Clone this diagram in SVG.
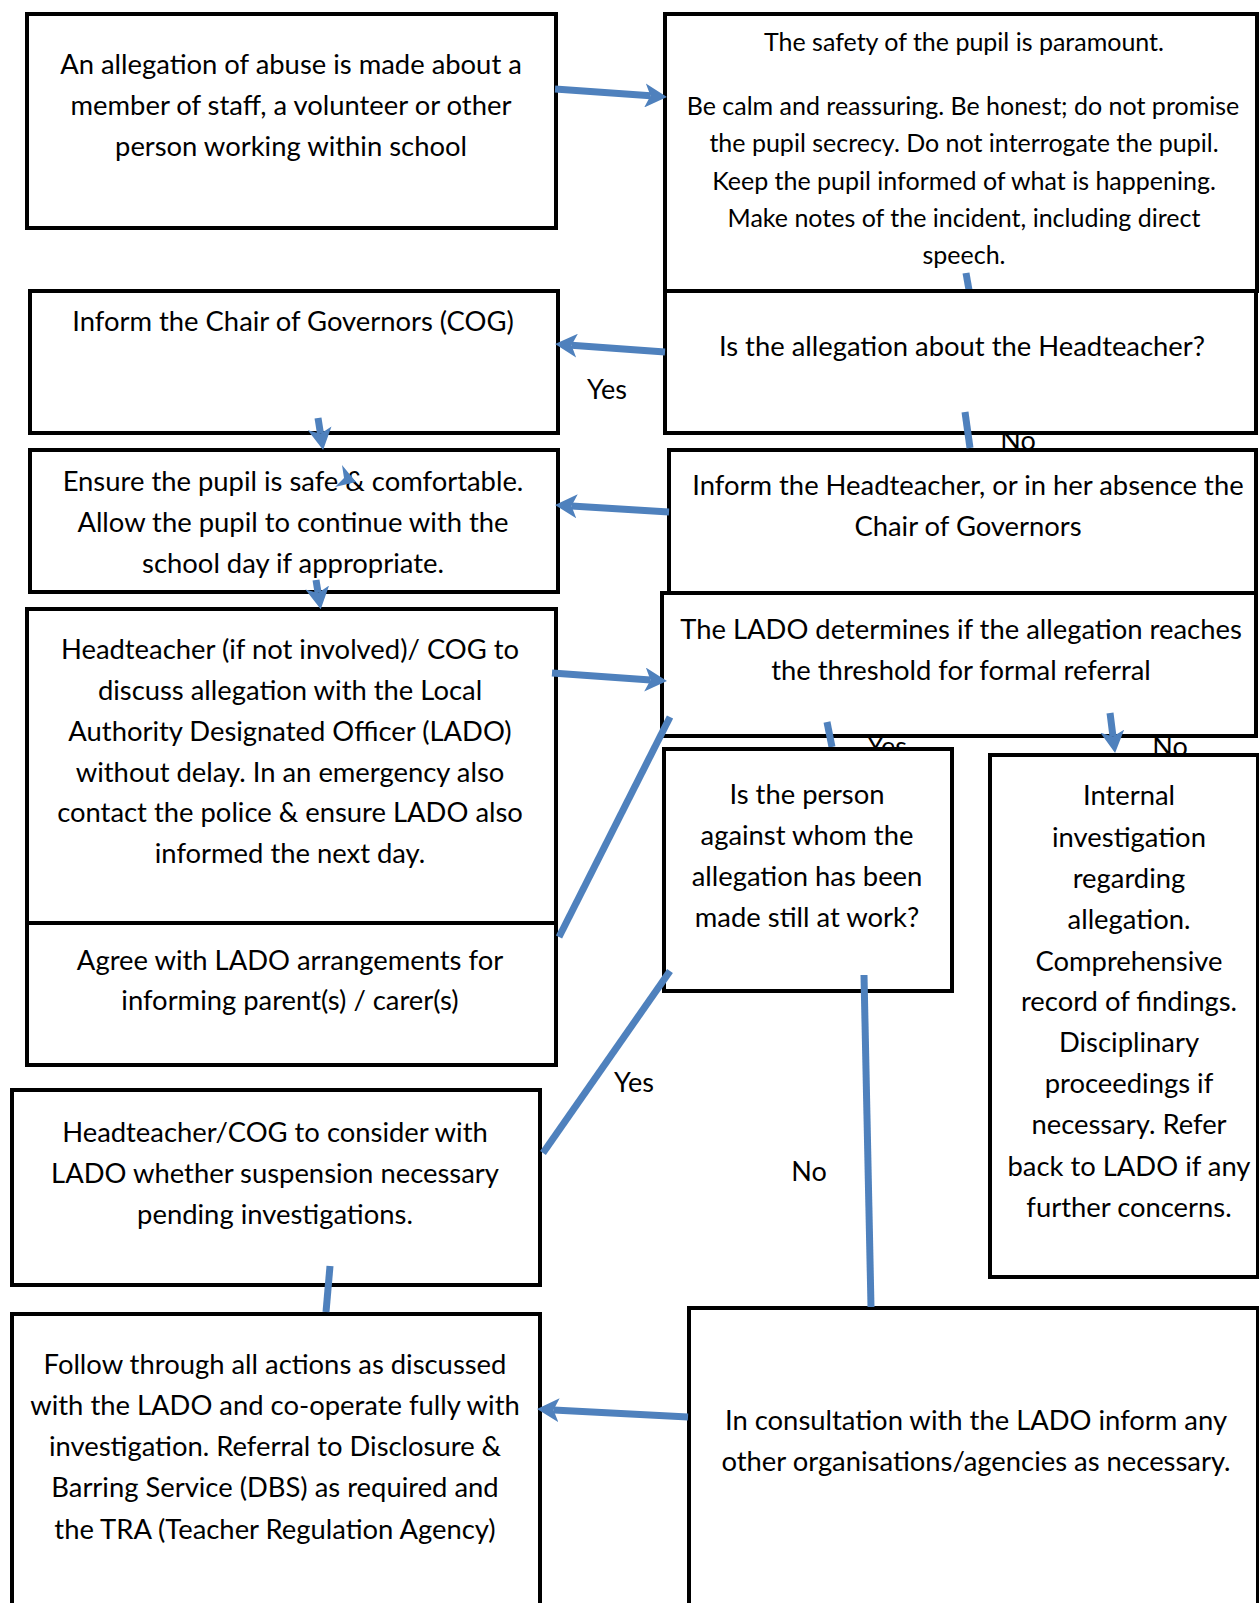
<svg xmlns="http://www.w3.org/2000/svg" width="1259" height="1603" viewBox="0 0 1259 1603">
<style>
  .box { fill: #ffffff; stroke: #000000; stroke-width: 4; }
  .t { font-family: Lato, "Liberation Sans", sans-serif; font-size: 27.4px; fill: #000; text-anchor: middle; }
  .ts { font-family: Lato, "Liberation Sans", sans-serif; font-size: 25px; fill: #000; text-anchor: middle; }
  .lbl { font-family: Lato, "Liberation Sans", sans-serif; font-size: 27px; fill: #000; text-anchor: middle; }
  .c { stroke: #4F81BD; stroke-width: 7; fill: none; }
  .ca { stroke: #4F81BD; stroke-width: 7; fill: none; marker-end: url(#ah); }
  .hd { fill: #4F81BD; }
</style>
<defs>
  <marker id="ah" markerUnits="userSpaceOnUse" markerWidth="22" markerHeight="24" viewBox="0 0 10 10" preserveAspectRatio="none" refX="2.5" refY="5" orient="auto">
    <path d="M0,0 L10,5 L0,10 L2.5,5 z" fill="#4F81BD"/>
  </marker>
</defs>
<rect width="1259" height="1603" fill="#ffffff"/>

<g id="labels">
  <text class="lbl" x="607" y="399">Yes</text>
  <text class="lbl" x="1018" y="450">No</text>
  <text class="lbl" x="887" y="756">Yes</text>
  <text class="lbl" x="1170" y="756">No</text>
  <text class="lbl" x="634" y="1092">Yes</text>
  <text class="lbl" x="809" y="1181">No</text>
</g>

<g id="n1">
  <rect class="box" x="27" y="14" width="529" height="214"/>
  <text class="t" x="291" y="74">An allegation of abuse is made about a</text>
  <text class="t" x="291" y="115">member of staff, a volunteer or other</text>
  <text class="t" x="291" y="156">person working within school</text>
</g>
<g id="n2">
  <rect class="box" x="665" y="14" width="592" height="277"/>
  <text class="ts" x="964" y="51">The safety of the pupil is paramount.</text>
  <text class="ts" x="963" y="115">Be calm and reassuring. Be honest; do not promise</text>
  <text class="ts" x="964" y="152">the pupil secrecy. Do not interrogate the pupil.</text>
  <text class="ts" x="964" y="190">Keep the pupil informed of what is happening.</text>
  <text class="ts" x="964" y="227">Make notes of the incident, including direct</text>
  <text class="ts" x="964" y="264">speech.</text>
</g>
<g id="c-seg1">
  <line class="c" x1="966" y1="273" x2="969" y2="290"/>
</g>
<g id="n3">
  <rect class="box" x="665" y="291" width="591" height="142"/>
  <text class="t" x="962" y="356">Is the allegation about the Headteacher?</text>
</g>
<g id="n4">
  <rect class="box" x="30" y="291" width="528" height="142"/>
  <text class="t" x="293" y="331">Inform the Chair of Governors (COG)</text>
</g>
<g id="n5">
  <rect class="box" x="30" y="450" width="528" height="142"/>
  <text class="t" x="293" y="491">Ensure the pupil is safe &amp; comfortable.</text>
  <text class="t" x="293" y="532">Allow the pupil to continue with the</text>
  <text class="t" x="293" y="573">school day if appropriate.</text>
</g>
<g id="n6">
  <rect class="box" x="669" y="450" width="587" height="143"/>
  <text class="t" x="968" y="495">Inform the Headteacher, or in her absence the</text>
  <text class="t" x="968" y="536">Chair of Governors</text>
</g>
<g id="n7">
  <rect class="box" x="662" y="593" width="594" height="143"/>
  <text class="t" x="961" y="639">The LADO determines if the allegation reaches</text>
  <text class="t" x="961" y="680">the threshold for formal referral</text>
</g>
<g id="n8">
  <rect class="box" x="27" y="609" width="529" height="314"/>
  <text class="t" x="290" y="659">Headteacher (if not involved)/ COG to</text>
  <text class="t" x="290" y="700">discuss allegation with the Local</text>
  <text class="t" x="290" y="741">Authority Designated Officer (LADO)</text>
  <text class="t" x="290" y="782">without delay. In an emergency also</text>
  <text class="t" x="290" y="822">contact the police &amp; ensure LADO also</text>
  <text class="t" x="290" y="863">informed the next day.</text>
</g>
<g id="n9">
  <rect class="box" x="27" y="923" width="529" height="142"/>
  <text class="t" x="290" y="970">Agree with LADO arrangements for</text>
  <text class="t" x="290" y="1010">informing parent(s) / carer(s)</text>
</g>
<g id="c-seg2">
  <line class="c" x1="827" y1="722" x2="832" y2="747"/>
</g>
<g id="n10">
  <rect class="box" x="664" y="749" width="288" height="242"/>
  <text class="t" x="807" y="804">Is the person</text>
  <text class="t" x="807" y="845">against whom the</text>
  <text class="t" x="807" y="886">allegation has been</text>
  <text class="t" x="807" y="927">made still at work?</text>
</g>
<g id="n11">
  <rect class="box" x="990" y="755" width="268" height="522"/>
  <text class="t" x="1129" y="805">Internal</text>
  <text class="t" x="1129" y="847">investigation</text>
  <text class="t" x="1129" y="888">regarding</text>
  <text class="t" x="1129" y="929">allegation.</text>
  <text class="t" x="1129" y="971">Comprehensive</text>
  <text class="t" x="1129" y="1011">record of findings.</text>
  <text class="t" x="1129" y="1052">Disciplinary</text>
  <text class="t" x="1129" y="1093">proceedings if</text>
  <text class="t" x="1129" y="1134">necessary. Refer</text>
  <text class="t" x="1129" y="1176">back to LADO if any</text>
  <text class="t" x="1129" y="1217">further concerns.</text>
</g>
<g id="n12">
  <rect class="box" x="12" y="1090" width="528" height="195"/>
  <text class="t" x="275" y="1142">Headteacher/COG to consider with</text>
  <text class="t" x="275" y="1183">LADO whether suspension necessary</text>
  <text class="t" x="275" y="1224">pending investigations.</text>
</g>
<g id="n13">
  <rect class="box" x="12" y="1314" width="528" height="320"/>
  <text class="t" x="275" y="1374">Follow through all actions as discussed</text>
  <text class="t" x="275" y="1415">with the LADO and co-operate fully with</text>
  <text class="t" x="275" y="1456">investigation. Referral to Disclosure &amp;</text>
  <text class="t" x="275" y="1497">Barring Service (DBS) as required and</text>
  <text class="t" x="275" y="1539">the TRA (Teacher Regulation Agency)</text>
</g>
<g id="n14">
  <rect class="box" x="689" y="1308" width="569" height="320"/>
  <text class="t" x="976" y="1430">In consultation with the LADO inform any</text>
  <text class="t" x="976" y="1471">other organisations/agencies as necessary.</text>
</g>

<g id="connectors">
  <line class="ca" x1="555" y1="89" x2="650.5" y2="95.8"/>
  <line class="ca" x1="665" y1="352" x2="571.5" y2="345.2"/>
  <line class="ca" x1="318" y1="418" x2="320.5" y2="433.7"/>
  <polygon class="hd" points="342,465 356,482 335,487 344,478"/>
  <line class="ca" x1="316" y1="580" x2="318.1" y2="592.9"/>
  <line class="ca" x1="669" y1="512" x2="571.5" y2="506"/>
  <line class="ca" x1="552" y1="673" x2="650.5" y2="679.9"/>
  <line class="c" x1="670" y1="717" x2="559" y2="937"/>
  <line class="c" x1="965" y1="412" x2="970" y2="448"/>
  <line class="ca" x1="1110" y1="713" x2="1113" y2="736.6"/>
  <line class="c" x1="670" y1="971" x2="543" y2="1153"/>
  <line class="c" x1="864" y1="975" x2="871" y2="1307"/>
  <line class="c" x1="330" y1="1266" x2="326" y2="1312"/>
  <line class="ca" x1="688" y1="1417" x2="553.5" y2="1409.9"/>
</g>
</svg>
